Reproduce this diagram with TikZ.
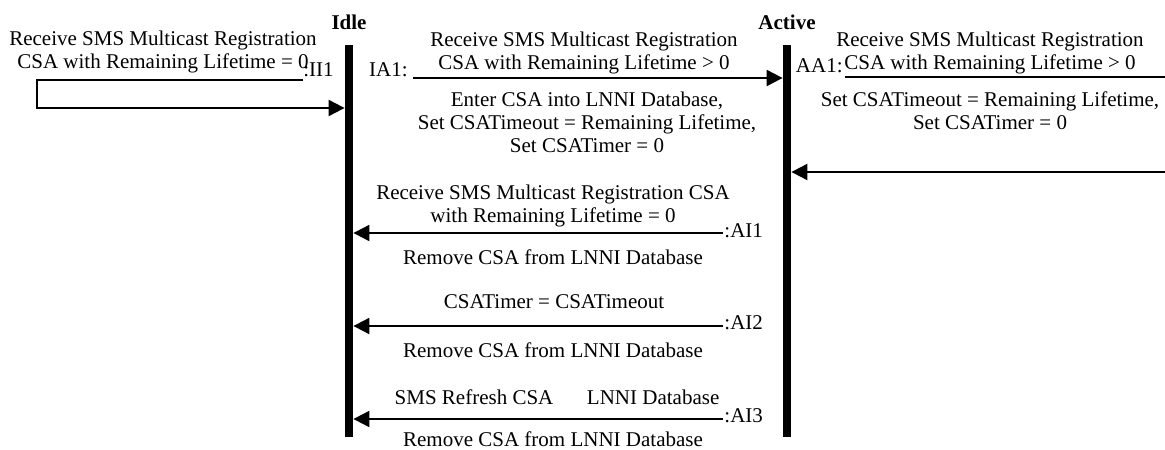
\documentclass[tikz,border=0pt]{standalone}
\usepackage{fontspec}
\setmainfont{Liberation Serif}
\usetikzlibrary{arrows.meta}

\begin{document}
\begin{tikzpicture}[
    x=0.5pt, y=-0.5pt,
    lbl/.style={font=\fontsize{10.5}{11.5}\selectfont, align=center, inner sep=0pt},
    statelbl/.style={font=\fontsize{10.5}{11.5}\selectfont\bfseries, inner sep=0pt},
    bar/.style={fill=black, inner sep=0pt, minimum width=4pt, minimum height=196pt},
    msg/.style={-{Triangle[length=8pt,width=8pt]}, line width=1pt},
    wire/.style={line width=1pt}
  ]
    \useasboundingbox (0,0) rectangle (1165,449);

    % states
    \node[statelbl] (idle) at (349,22) {Idle};
    \node[statelbl] (active) at (787,22) {Active};
    \node[bar] (idleBar) at (349,241) {};
    \node[bar] (activeBar) at (787,241) {};

    % II1
    \node[lbl] (ii1txt) at (163,52) {Receive SMS Multicast Registration\\CSA with Remaining Lifetime = 0};
    \coordinate (ii1s) at (303,80);
    \coordinate (ii1a) at (37,80);
    \coordinate (ii1b) at (37,108);
    \node[lbl, anchor=base west] (ii1) at (303,76) {:II1};
    \draw[msg] (ii1s) -- (ii1a) -- (ii1b) -- (ii1b -| idleBar.west);

    % IA1
    \coordinate (ia1s) at (413,78);
    \node[lbl, anchor=base east] (ia1) at (408,76) {IA1:};
    \node[lbl] (ia1txt) at (584,53) {Receive SMS Multicast Registration\\CSA with Remaining Lifetime > 0};
    \node[lbl] (ia1act) at (587,122) {Enter CSA into LNNI Database,\\Set CSATimeout = Remaining Lifetime,\\Set CSATimer = 0};
    \draw[msg] (ia1s) -- (ia1s -| activeBar.west);

    % AA1
    \coordinate (aa1s) at (845,77);
    \coordinate (aa1e) at (1165,77);
    \coordinate (aa1r) at (1165,172);
    \node[lbl, anchor=base east] (aa1) at (843,73) {AA1:};
    \node[lbl] (aa1txt) at (990,53) {Receive SMS Multicast Registration\\CSA with Remaining Lifetime > 0};
    \node[lbl] (aa1act) at (990,111) {Set CSATimeout = Remaining Lifetime,\\Set CSATimer = 0};
    \draw[wire] (aa1s) -- (aa1e);
    \draw[msg] (aa1r) -- (aa1r -| activeBar.east);

    % AI1
    \coordinate (ai1s) at (723,233);
    \node[lbl, anchor=base west] (ai1) at (724,237) {:AI1};
    \node[lbl] (ai1txt) at (553,206) {Receive SMS Multicast Registration CSA\\with Remaining Lifetime = 0};
    \node[lbl] (ai1act) at (553,257) {Remove CSA from LNNI Database};
    \draw[msg] (ai1s) -- (ai1s -| idleBar.east);

    % AI2
    \coordinate (ai2s) at (723,326);
    \node[lbl, anchor=base west] (ai2) at (724,329) {:AI2};
    \node[lbl] (ai2txt) at (554,302) {CSATimer = CSATimeout};
    \node[lbl] (ai2act) at (553,350) {Remove CSA from LNNI Database};
    \draw[msg] (ai2s) -- (ai2s -| idleBar.east);

    % AI3
    \coordinate (ai3s) at (723,419);
    \node[lbl, anchor=base west] (ai3) at (724,422) {:AI3};
    \node[lbl] (ai3txt) at (557,397) {SMS Refresh CSA\hspace{1.6em}LNNI Database};
    \node[lbl] (ai3act) at (553,439) {Remove CSA from LNNI Database};
    \draw[msg] (ai3s) -- (ai3s -| idleBar.east);
\end{tikzpicture}
\end{document}
